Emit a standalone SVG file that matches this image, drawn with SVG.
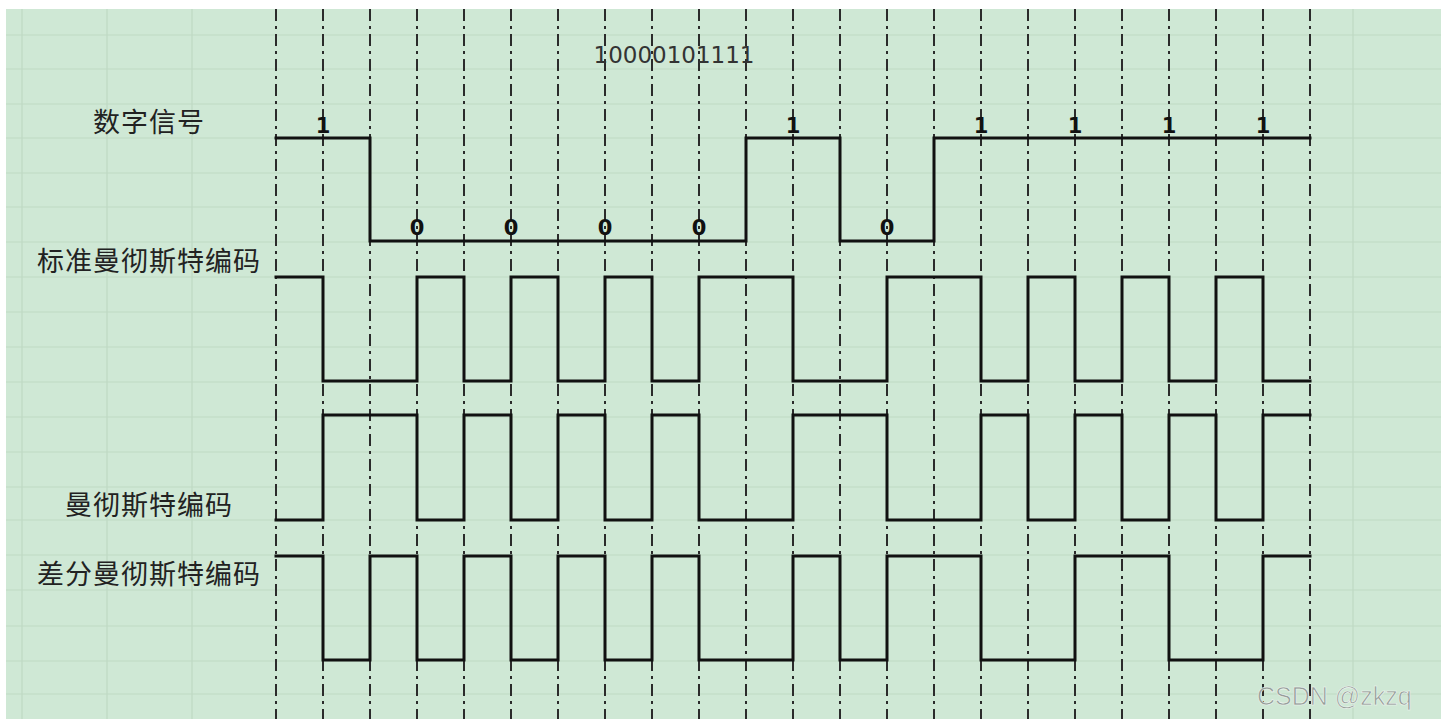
<svg xmlns="http://www.w3.org/2000/svg" width="1449" height="719" viewBox="0 0 1449 719">
<style>
.grid{stroke:#bfd9c4;stroke-width:1.2}
.guide{stroke:#2b2b2b;stroke-width:2;stroke-dasharray:12 5 3 5;fill:none}
.wave{stroke:#111;stroke-width:3;fill:none;stroke-linejoin:miter;stroke-linecap:square}
.lbl{font-family:"Noto Sans CJK SC","Noto Sans",sans-serif;font-size:27px;fill:#222;letter-spacing:1px}
.bit{font-family:"DejaVu Sans",sans-serif;font-weight:bold;font-size:21px;fill:#111;text-anchor:middle}
.seq{font-family:"DejaVu Sans",sans-serif;font-size:23px;fill:#333;text-anchor:middle}
.wm{font-family:"Liberation Sans",Arial,sans-serif;font-size:25px;fill:#959e99;stroke:#f2f7f3;stroke-width:0.6}
</style>
<rect x="0" y="0" width="1449" height="719" fill="#ffffff"/>
<rect x="6" y="9" width="1435" height="710" fill="#cfe8d5"/>
<g id="grid">
<path class="grid" d="M6,35H1441M6,69H1441M6,104H1441M6,138H1441M6,173H1441M6,207H1441M6,242H1441M6,277H1441M6,312H1441M6,347H1441M6,382H1441M6,417H1441M6,452H1441M6,487H1441M6,520H1441M6,555H1441M6,590H1441M6,626H1441M6,661H1441M6,694H1441"/>
<path class="grid" d="M22,9V719M107,9V719M192,9V719M1353,9V719"/>
</g>
<g id="guides">
<path class="guide" d="M276,9V719M323,9V719M370,9V719M417,9V719M464,9V719M511,9V719M558,9V719M605,9V719M652,9V719M699,9V719M746,9V719M793,9V719M840,9V719M887,9V719M934,9V719M981,9V719M1028,9V719M1075,9V719M1122,9V719M1169,9V719M1216,9V719M1263,9V719M1310,9V719"/>
</g>
<text class="seq" x="674" y="63">10000101111</text>
<g id="digital">
<text class="lbl" x="93" y="132">数字信号</text>
<path class="wave" d="M276,138H370V241H746V138H840V241H934V138H1310"/>
<text class="bit" x="323" y="133">1</text>
<text class="bit" x="417" y="235">0</text>
<text class="bit" x="511" y="235">0</text>
<text class="bit" x="605" y="235">0</text>
<text class="bit" x="699" y="235">0</text>
<text class="bit" x="793" y="133">1</text>
<text class="bit" x="887" y="235">0</text>
<text class="bit" x="981" y="133">1</text>
<text class="bit" x="1075" y="133">1</text>
<text class="bit" x="1169" y="133">1</text>
<text class="bit" x="1263" y="133">1</text>
</g>
<g id="std-manchester">
<text class="lbl" x="37" y="271">标准曼彻斯特编码</text>
<path class="wave" d="M276,277H323V381H417V277H464V381H511V277H558V381H605V277H652V381H699V277H793V381H887V277H981V381H1028V277H1075V381H1122V277H1169V381H1216V277H1263V381H1310"/>
</g>
<g id="manchester">
<text class="lbl" x="65" y="515">曼彻斯特编码</text>
<path class="wave" d="M276,520H323V415H417V520H464V415H511V520H558V415H605V520H652V415H699V520H793V415H887V520H981V415H1028V520H1075V415H1122V520H1169V415H1216V520H1263V415H1310"/>
</g>
<g id="diff-manchester">
<text class="lbl" x="37" y="584">差分曼彻斯特编码</text>
<path class="wave" d="M276,556H323V660H370V556H417V660H464V556H511V660H558V556H605V660H652V556H699V660H793V556H840V660H887V556H981V660H1075V556H1169V660H1263V556H1310"/>
</g>
<text class="wm" x="1257" y="705">CSDN @zkzq</text>
</svg>
